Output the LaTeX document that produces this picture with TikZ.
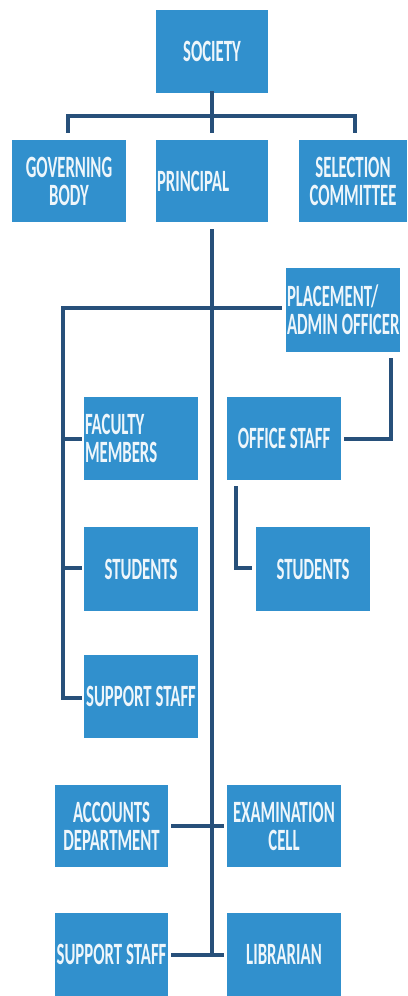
\documentclass[tikz,border=0pt]{standalone}
\usepackage{fontspec}
\newfontfamily\boxfont{Carlito}[FakeStretch=0.54]
\definecolor{boxblue}{HTML}{3190CD}
\definecolor{linenavy}{HTML}{27507A}
\definecolor{txt}{HTML}{EEF6FB}
\begin{document}
\begin{tikzpicture}[x=1pt,y=-1pt,
  orgbox/.style={fill=boxblue, draw=none, inner sep=0pt, text=txt,
    font=\boxfont\bfseries\fontsize{31}{28}\selectfont, align=center},
  leftbox/.style={orgbox, align=left, inner xsep=1pt, text width=#1},
  conn/.style={draw=linenavy, line width=3.6pt, line cap=rect, line join=miter}]
\useasboundingbox (0,0) rectangle (407,996);
\fill[white] (0,0) rectangle (407,996);
% boxes
\node[orgbox, minimum width=112pt, minimum height=83pt] (soc) at (212,51.5) {SOCIETY};
\node[orgbox, minimum width=114pt, minimum height=82pt] (gov) at (69,181) {GOVERNING\\BODY};
\node[leftbox=110pt, minimum width=112pt, minimum height=82pt] (pri) at (212,181) {PRINCIPAL};
\node[orgbox, minimum width=108pt, minimum height=82pt] (sel) at (353,181) {SELECTION\\COMMITTEE};
\node[leftbox=112pt, minimum width=114pt, minimum height=84pt] (pla) at (343,310) {\mbox{PLACEMENT/}\\\mbox{ADMIN\hspace{4pt}OFFICER}};
\node[leftbox=112pt, minimum width=114pt, minimum height=83pt] (fac) at (141,438.5) {\mbox{FACULTY}\\\mbox{MEMBERS}};
\node[orgbox, minimum width=114pt, minimum height=83pt] (off) at (284,438.5) {OFFICE\hspace{4pt}STAFF};
\node[orgbox, minimum width=114pt, minimum height=84pt] (stu1) at (141,569) {STUDENTS};
\node[orgbox, minimum width=114pt, minimum height=84pt] (stu2) at (313,569) {STUDENTS};
\node[orgbox, minimum width=114pt, minimum height=83pt] (sup1) at (141,696.5) {SUPPORT\hspace{4pt}STAFF};
\node[orgbox, minimum width=113pt, minimum height=82pt] (acc) at (111.5,826) {ACCOUNTS\\DEPARTMENT};
\node[orgbox, minimum width=114pt, minimum height=82pt] (exa) at (284,826) {EXAMINATION\\CELL};
\node[orgbox, minimum width=113pt, minimum height=83pt] (sup2) at (111.5,954.5) {SUPPORT\hspace{4pt}STAFF};
\node[orgbox, minimum width=114pt, minimum height=83pt] (lib) at (284,954.5) {LIBRARIAN};
% connector coordinates
\coordinate (socdown) at (212,131);
\coordinate (barY) at (212,116);
\coordinate (govtop) at (68,131);
\coordinate (seltop) at (355,131);
\coordinate (ptop) at (212,231);
\coordinate (pbot) at (212,955);
\coordinate (hleft) at (63,308);
\coordinate (hright) at (280,308);
\coordinate (lbot) at (63,698);
\coordinate (s1) at (80,439);
\coordinate (s2) at (80,568);
\coordinate (s3) at (80,698);
\coordinate (plabot) at (391,360);
\coordinate (offr) at (346,439);
\coordinate (offbot) at (236,488);
\coordinate (stu2l) at (250,568);
\coordinate (accr) at (173,826);
\coordinate (exal) at (222,826);
\coordinate (sup2r) at (173,955);
\coordinate (libl) at (222,955);
% connectors
\draw[conn] (soc.south) -- (socdown);
\draw[conn] (govtop) |- (barY) -| (seltop);
\draw[conn] (ptop) -- (pbot);
\draw[conn] (hleft) -- (hright);
\draw[conn] (hleft) -- (lbot);
\draw[conn] (hleft |- s1) -- (s1);
\draw[conn] (hleft |- s2) -- (s2);
\draw[conn] (lbot) -- (s3);
\draw[conn] (plabot) |- (offr);
\draw[conn] (offbot) |- (stu2l);
\draw[conn] (accr) -- (exal);
\draw[conn] (sup2r) -- (libl);
\end{tikzpicture}
\end{document}
